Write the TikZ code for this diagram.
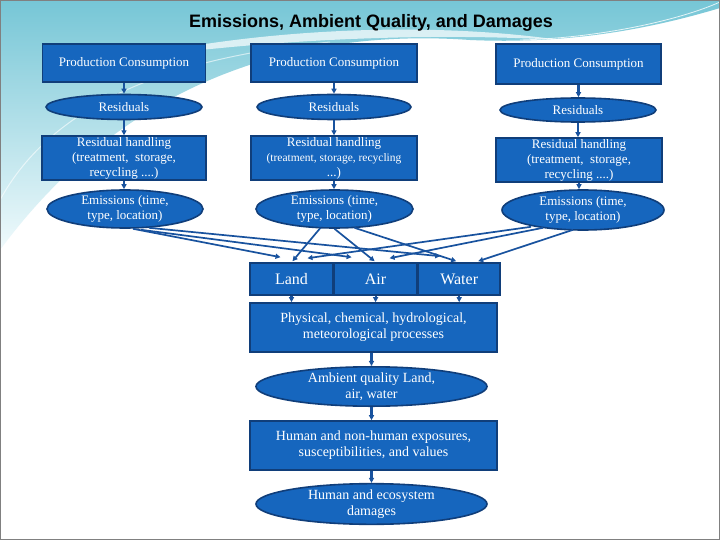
\documentclass[tikz,border=0pt]{standalone}
\usepackage{fontspec}
\setmainfont{Liberation Serif}
\newfontfamily\headfont{Liberation Sans}
\usetikzlibrary{arrows.meta,positioning,shapes.geometric}
\definecolor{boxblue}{RGB}{22,102,190}
\definecolor{boxline}{RGB}{16,62,122}
\definecolor{linkblue}{RGB}{24,82,158}
\definecolor{seadeep}{RGB}{118,198,214}
\definecolor{seapale}{RGB}{240,250,252}

\begin{document}
\begin{tikzpicture}[x=1pt,y=-1pt,>={Triangle[length=5pt,width=5pt]},
  every node/.style={text=white,align=center,font=\fontsize{13}{15}\selectfont},
  box/.style={draw=boxline,line width=1.6pt,fill=boxblue,inner sep=1pt},
  oval/.style={ellipse,draw=boxline,line width=1.6pt,fill=boxblue,inner sep=0pt},
  big/.style={font=\fontsize{14}{16}\selectfont},
  link/.style={->,draw=linkblue,line width=2.2pt},
  fan/.style={->,draw=linkblue,line width=1.7pt}]
\useasboundingbox (0,0) rectangle (720,540);
% backdrop
\fill[white] (0,0) rectangle (720,540);
\shade[top color=seadeep,bottom color=seapale] (0,0) -- (720,0) -- (720,8)
  .. controls (640,32) and (560,44) .. (470,40)
  .. controls (330,30) and (140,60) .. (0,250) -- cycle;
\fill[white,opacity=0.7] (120,60) .. controls (250,30) and (420,20) .. (560,40)
  .. controls (420,32) and (260,40) .. (120,60) -- cycle;
\draw[white,line width=1pt,opacity=0.6] (0,200) .. controls (60,90) and (200,55) .. (330,42);
\draw[white,line width=0.8pt,opacity=0.8] (520,40) .. controls (600,38) and (680,20) .. (720,2);
\draw[gray,line width=1.5pt] (0,0) rectangle (720,540);
\node[text=black,font=\headfont\bfseries\fontsize{18}{20}\selectfont] (title) at (371,23) {Emissions, Ambient Quality, and Damages};

% three source columns
\node[box,minimum width=163pt,minimum height=38pt] (pc1) at (124,63) {Production Consumption};
\node[oval,minimum width=156pt,minimum height=25pt] (r1) at (124,107) {Residuals};
\node[box,minimum width=164pt,minimum height=43pt] (rh1) at (124,158) {Residual handling\\(treatment,\ \ storage,\\recycling ....)};
\node[oval,minimum width=156pt,minimum height=38pt] (em1) at (125,209) {Emissions (time,\\type, location)};

\node[box,minimum width=166pt,minimum height=38pt] (pc2) at (334,63) {Production Consumption};
\node[oval,minimum width=154pt,minimum height=25pt] (r2) at (334,107) {Residuals};
\node[box,minimum width=166pt,minimum height=43pt] (rh2) at (334,158) {Residual handling\\\fontsize{11.5}{13}\selectfont(treatment, storage, recycling\\...)};
\node[oval,minimum width=157pt,minimum height=38pt] (em2) at (334.5,209) {Emissions (time,\\type, location)};

\node[box,minimum width=165pt,minimum height=40pt] (pc3) at (578.5,64) {Production Consumption};
\node[oval,minimum width=156pt,minimum height=24pt] (r3) at (578,110) {Residuals};
\node[box,minimum width=166pt,minimum height=44pt] (rh3) at (579,160) {Residual handling\\(treatment,\ \ storage,\\recycling ....)};
\node[oval,minimum width=162pt,minimum height=40pt] (em3) at (583,210) {Emissions (time,\\type, location)};

\foreach \c in {1,2,3} {
  \draw[link] (pc\c.south) -- (pc\c.south |- r\c.north);
  \draw[link] (r\c.south) -- (r\c.south |- rh\c.north);
  \draw[link] (rh\c.south) -- (rh\c.south |- em\c.north);
}

% media
\node[box,font=\fontsize{16}{18}\selectfont,minimum width=83pt,minimum height=32pt] (land) at (291.5,279) {Land};
\node[box,font=\fontsize{16}{18}\selectfont,minimum width=82pt,minimum height=32pt,right=0pt of land] (air) {Air};
\node[box,font=\fontsize{16}{18}\selectfont,minimum width=82pt,minimum height=32pt,right=0pt of air] (water) {Water};

% emissions to media
\draw[fan] ([xshift=8pt]em1.south) -- ([xshift=-11pt,yshift=5pt]land.north);
\draw[fan] ([xshift=16pt,yshift=-1pt]em1.south) -- ([xshift=-24pt,yshift=5pt]air.north);
\draw[fan] ([xshift=24pt,yshift=1pt]em1.south) -- ([xshift=-19pt,yshift=6pt]water.north);
\draw[fan] ([xshift=-14pt,yshift=1pt]em2.south) -- ([xshift=1pt,yshift=1pt]land.north);
\draw[fan] ([xshift=0pt]em2.south) -- ([xshift=-1pt,yshift=1pt]air.north);
\draw[fan] ([xshift=20pt,yshift=1pt]em2.south) -- ([xshift=-3pt,yshift=1pt]water.north);
\draw[fan] ([xshift=-52pt,yshift=4pt]em3.south) -- ([xshift=16pt,yshift=4pt]land.north);
\draw[fan] ([xshift=-40pt,yshift=3pt]em3.south) -- ([xshift=14pt,yshift=4pt]air.north);
\draw[fan] ([xshift=-10pt,yshift=1pt]em3.south) -- ([xshift=19pt,yshift=1pt]water.north);

% impact chain
\node[box,big,minimum width=247pt,minimum height=49pt] (proc) at (373.5,327.5) {Physical, chemical, hydrological,\\meteorological processes};
\node[oval,big,minimum width=231pt,minimum height=33pt] (amb) at (371.5,386.5) {Ambient quality Land,\\air, water};
\node[box,big,minimum width=247pt,minimum height=49pt] (expo) at (373.5,445.5) {Human and non-human exposures,\\susceptibilities, and values};
\node[oval,big,minimum width=231pt,minimum height=36pt] (dam) at (371.5,504) {Human and ecosystem\\damages};

\draw[link] (land.south) -- (land.south |- proc.north);
\draw[link] (air.south) -- (air.south |- proc.north);
\draw[link] (water.south) -- (water.south |- proc.north);
\draw[link] (proc.south -| amb.north) -- (amb.north);
\draw[link] (amb.south) -- (amb.south |- expo.north);
\draw[link] (expo.south -| dam.north) -- (dam.north);
\end{tikzpicture}
\end{document}
